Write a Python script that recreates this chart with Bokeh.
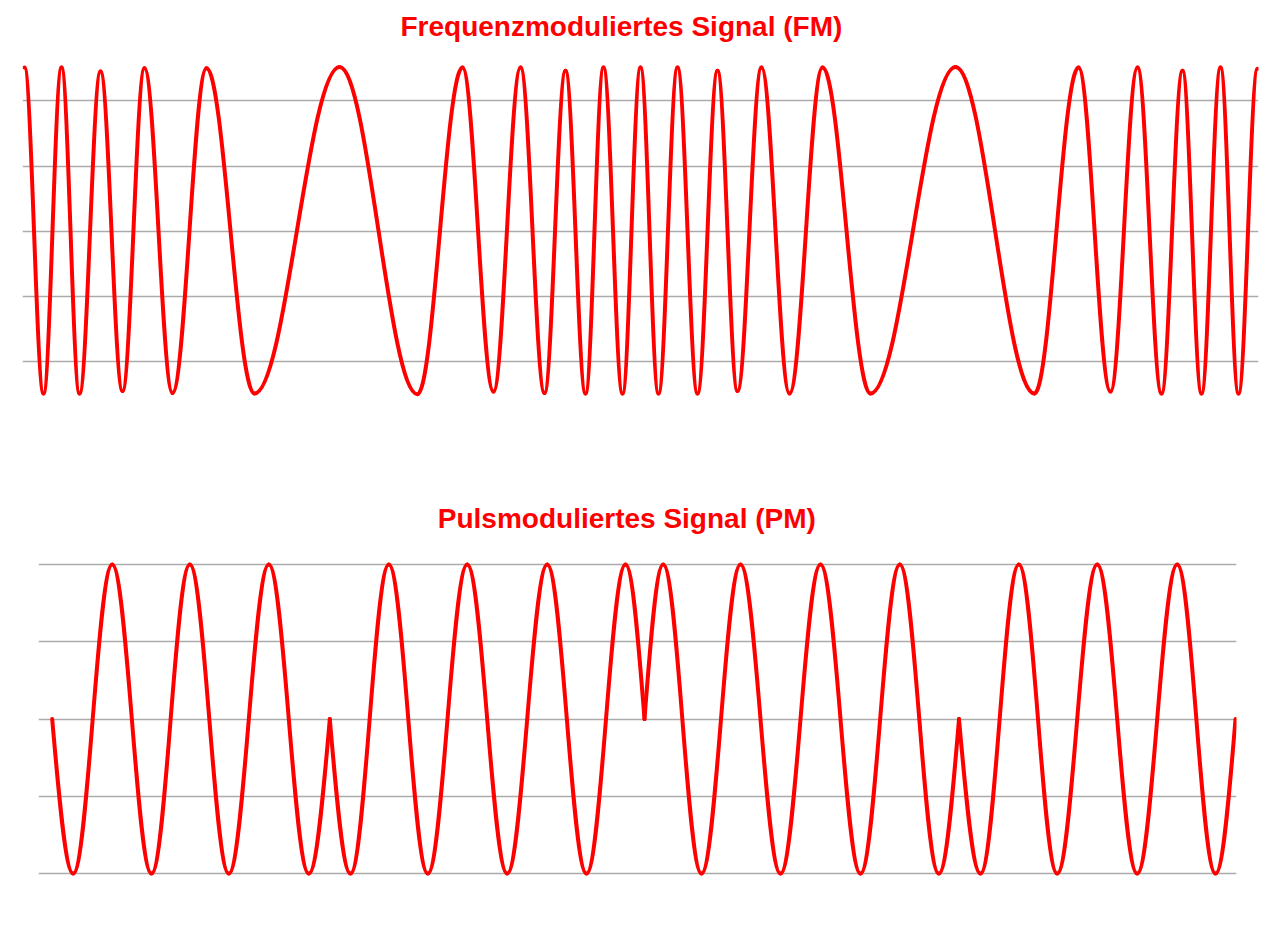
from bokeh.plotting import figure
from bokeh.models import Range1d, Grid, FixedTicker, ColumnDataSource
from bokeh.embed import file_html
from bokeh.resources import INLINE

# ---- data ----
# FM signal: horizontal position of each successive peak / trough and its level
fm_x = [24, 43, 61, 79, 100, 122, 144, 172, 206, 254, 339, 417, 462, 493, 520,
        544, 565, 585, 603, 622, 640, 658, 677, 697, 717, 737, 761, 789, 822, 870,
        955, 1034, 1078, 1110, 1137, 1161, 1182, 1201, 1220, 1238, 1257]
fm_y = [2.51, -2.49, 2.51, -2.49, 2.45, -2.45, 2.50, -2.48, 2.50, -2.49, 2.52,
        -2.50, 2.51, -2.46, 2.51, -2.48, 2.46, -2.49, 2.51, -2.49, 2.51, -2.49,
        2.51, -2.49, 2.46, -2.45, 2.51, -2.49, 2.51, -2.49, 2.52, -2.49, 2.51,
        -2.46, 2.51, -2.49, 2.46, -2.49, 2.51, -2.49, 2.49]

# PM signal: peaks / troughs and the phase-jump points (level 0)
pm_x = [51.7, 72.7, 111.7, 151, 189.3, 228.3, 268.3, 308.3, 329.3, 350, 388.3,
        427.3, 466.7, 506.7, 546.7, 586, 625, 644, 662.7, 701, 740, 780, 820, 860,
        899.3, 938.3, 958.5, 980, 1018.3, 1056.7, 1096.7, 1136.7, 1176.7, 1215, 1235]
pm_y = [0, -2, 2, -2, 2, -2, 2, -2, 0, -2, 2, -2, 2, -2, 2, -2, 2, 0, 2, -2, 2,
        -2, 2, -2, 2, -2, 0, -2, 2, -2, 2, -2, 2, -2, 0]

grid_levels = [-2, -1, 0, 1, 2]
fm_title = "Frequenzmoduliertes Signal (FM)"
pm_title = "Pulsmoduliertes Signal (PM)"

RED = "#ff0000"
GRID = "#ababab"
A = 0.3634  # bezier handle ratio for a half sine wave


def wave_source(xs, ys):
    d = dict(x0=[], y0=[], x1=[], y1=[], cx0=[], cy0=[], cx1=[], cy1=[])
    for i in range(len(xs) - 1):
        x0, y0, x1, y1 = xs[i], ys[i], xs[i + 1], ys[i + 1]
        dx = x1 - x0
        if y0 != 0 and y1 != 0:
            c = (x0 + A * dx, y0, x1 - A * dx, y1)
        elif y1 == 0:
            c = (x0 + A * dx, y0, x0 + (1 + A) / 2 * dx, (y0 + y1) / 2)
        else:
            c = (x0 + (1 - A) / 2 * dx, (y0 + y1) / 2, x1 - A * dx, y1)
        for k, v in zip(["x0", "y0", "x1", "y1", "cx0", "cy0", "cx1", "cy1"],
                        [x0, y0, x1, y1, *c]):
            d[k].append(v)
    return ColumnDataSource(d)


def panel(title, xs, ys, xr, yr, height, bl, br, offset):
    p = figure(width=1280, height=height, x_range=Range1d(*xr), y_range=Range1d(*yr),
               output_backend="svg", toolbar_location=None,
               x_axis_location=None, y_axis_location=None,
               min_border_left=bl, min_border_right=br,
               min_border_top=46, min_border_bottom=0,
               outline_line_color=None, background_fill_color="white",
               border_fill_color="white")
    p.center = []  # drop default grids
    p.title.text = title
    p.title.text_font = "Liberation Sans"
    p.title.text_font_size = "28px"
    p.title.text_font_style = "bold"
    p.title.text_color = RED
    p.title.align = "left"
    p.title.offset = offset
    p.add_layout(Grid(dimension=1, ticker=FixedTicker(ticks=grid_levels),
                      grid_line_color=GRID, grid_line_width=1.6))
    p.bezier(x0="x0", y0="y0", x1="x1", y1="y1", cx0="cx0", cy0="cy0",
             cx1="cx1", cy1="cy1", source=wave_source(xs, ys),
             line_color=RED, line_width=4, line_cap="round")
    return p


p1 = panel(fm_title, fm_x, fm_y, (22, 1258), (-4.008, 2.833), 492, 22, 22, 378)
p2 = panel(pm_title, pm_x, pm_y, (38, 1236), (-2.633, 2.338), 430, 38, 44, 399.3)

open("out.html", "w").write(file_html([p1, p2], INLINE))
